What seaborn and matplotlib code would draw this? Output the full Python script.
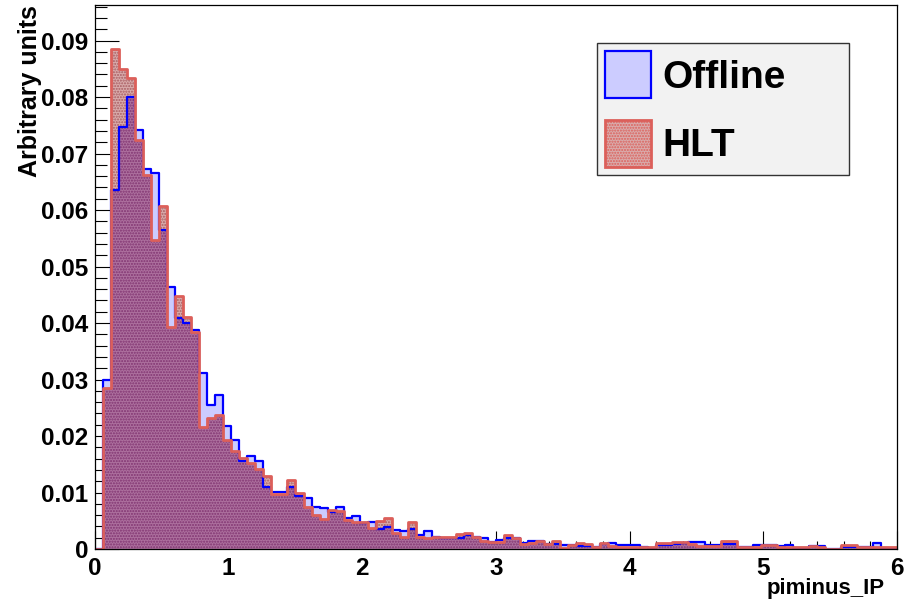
import numpy as np
import pandas as pd
import matplotlib
matplotlib.use("Agg")
import matplotlib.pyplot as plt
from matplotlib.patches import Patch
import seaborn as sns
from matplotlib.ticker import MultipleLocator

# ---------------- data ----------------
x_range = (0.0, 6.0)
n_bins = 100
offline = [0.0, 0.0300, 0.0635, 0.0747, 0.0800, 0.0742, 0.0672, 0.0665, 0.0565, 0.0464,
           0.0409, 0.0400, 0.0388, 0.0311, 0.0255, 0.0273, 0.0218, 0.0193, 0.0156, 0.0165,
           0.0156, 0.0110, 0.0101, 0.0101, 0.0110, 0.0093, 0.0090, 0.0074, 0.0073, 0.0065,
           0.0074, 0.0055, 0.0059, 0.0046, 0.0047, 0.0035, 0.0039, 0.0033, 0.0032, 0.0035,
           0.0025, 0.0031, 0.0022, 0.0020, 0.0019, 0.0019, 0.0024, 0.0021, 0.0019, 0.0013,
           0.0016, 0.0019, 0.0019, 0.0011, 0.0015, 0.0015, 0.0009, 0.0009, 0.0007, 0.0007,
           0.0006, 0.0005, 0.0003, 0.0009, 0.0011, 0.0007, 0.0007, 0.0007, 0.0003, 0.0001,
           0.0007, 0.0007, 0.0009, 0.0010, 0.0013, 0.0013, 0.0007, 0.0007, 0.0009, 0.0009,
           0.0003, 0.0003, 0.0007, 0.0007, 0.0007, 0.0005, 0.0007, 0.0001, 0.0001, 0.0005,
           0.0005, 0.0, 0.0, 0.0003, 0.0003, 0.0003, 0.0003, 0.0011, 0.0001, 0.0]
hlt = [0.0, 0.0285, 0.0885, 0.0850, 0.0834, 0.0724, 0.0662, 0.0547, 0.0607, 0.0393,
       0.0448, 0.0411, 0.0385, 0.0216, 0.0232, 0.0237, 0.0193, 0.0174, 0.0161, 0.0152,
       0.0142, 0.0129, 0.0097, 0.0097, 0.0122, 0.0099, 0.0074, 0.0060, 0.0053, 0.0069,
       0.0068, 0.0051, 0.0047, 0.0047, 0.0037, 0.0050, 0.0055, 0.0029, 0.0022, 0.0047,
       0.0022, 0.0019, 0.0022, 0.0022, 0.0022, 0.0026, 0.0028, 0.0021, 0.0014, 0.0013,
       0.0013, 0.0025, 0.0019, 0.0009, 0.0011, 0.0015, 0.0009, 0.0015, 0.0002, 0.0007,
       0.0011, 0.0009, 0.0003, 0.0011, 0.0005, 0.0004, 0.0003, 0.0003, 0.0003, 0.0003,
       0.0011, 0.0011, 0.0013, 0.0013, 0.0009, 0.0006, 0.0005, 0.0005, 0.0015, 0.0015,
       0.0003, 0.0003, 0.0003, 0.0007, 0.0007, 0.0003, 0.0003, 0.0003, 0.0003, 0.0005,
       0.0003, 0.0, 0.0, 0.0007, 0.0007, 0.0003, 0.0003, 0.0003, 0.0003, 0.0003]
series_names = ["Offline", "HLT"]
x_ticks = [0, 1, 2, 3, 4, 5, 6]
x_tick_labels = ["0", "1", "2", "3", "4", "5", "6"]
y_ticks = [0.0, 0.01, 0.02, 0.03, 0.04, 0.05, 0.06, 0.07, 0.08, 0.09]
y_tick_labels = ["0", "0.01", "0.02", "0.03", "0.04", "0.05", "0.06", "0.07", "0.08", "0.09"]
x_title = "piminus_IP"
y_title = "Arbitrary units"
y_max = 0.0963

# ---------------- style ----------------
sns.set_style("white")
plt.rcParams["font.family"] = ["Liberation Sans", "DejaVu Sans"]
plt.rcParams["font.weight"] = "bold"
for k in ["text.color", "axes.labelcolor", "xtick.color", "ytick.color", "axes.edgecolor"]:
    plt.rcParams[k] = "black"
plt.rcParams["hatch.linewidth"] = 1.0

off_face = (0.80, 0.80, 1.0)
off_edge = "#0000ff"
hlt_face = (0.85, 0.67, 0.67)
hlt_dots = (0.66, 0.36, 0.38)
both_face = (0.68, 0.44, 0.62)
both_dots = (0.50, 0.20, 0.44)
hlt_edge = "#dc5f5a"

edges = [float(e) for e in np.linspace(x_range[0], x_range[1], n_bins + 1)]
centers = [0.5 * (edges[i] + edges[i + 1]) for i in range(n_bins)]
df = pd.DataFrame({"x": centers, "offline": offline, "hlt": hlt})
# region where the HLT pattern lies over the Offline fill
df["both"] = np.minimum(df["offline"], df["hlt"])

fig = plt.figure(figsize=(9.12, 6.06), dpi=100)
ax = fig.add_axes([95 / 912, 1 - 549 / 606, 802 / 912, 544 / 606])

common = dict(data=df, x="x", bins=edges, element="step", ax=ax)
# fills (edgecolor only sets the dot colour of the pattern, linewidth 0)
sns.histplot(weights="offline", fill=True, facecolor=off_face, edgecolor="none",
             linewidth=0, **common)
sns.histplot(weights="hlt", fill=True, facecolor=hlt_face, edgecolor=hlt_dots,
             linewidth=0, hatch="......", **common)
sns.histplot(weights="both", fill=True, facecolor=both_face, edgecolor=both_dots,
             linewidth=0, hatch="......", **common)
# outlines
sns.histplot(weights="offline", fill=False, color=off_edge, linewidth=1.6, **common)
sns.histplot(weights="hlt", fill=False, color=hlt_edge, linewidth=2.0, **common)

ax.set_xlim(*x_range)
ax.set_ylim(0, y_max)
ax.set_xticks(x_ticks)
ax.set_xticklabels(x_tick_labels)
ax.set_yticks(y_ticks)
ax.set_yticklabels(y_tick_labels)
ax.xaxis.set_minor_locator(MultipleLocator(0.2))
ax.yaxis.set_minor_locator(MultipleLocator(0.002))

ax.tick_params(axis="both", which="both", direction="in", width=0.8, color="black",
               labelcolor="black", labelsize=17.5, bottom=True, left=True, top=False,
               right=False)
ax.tick_params(axis="y", which="major", length=17, pad=5)
ax.tick_params(axis="y", which="minor", length=8.5)
ax.tick_params(axis="x", which="major", length=13, pad=6)
ax.tick_params(axis="x", which="minor", length=6)

for s in ax.spines.values():
    s.set_visible(True)
    s.set_color("black")
    s.set_linewidth(0.9)

ax.set_xlabel(x_title, fontsize=16, fontweight="bold", loc="right")
ax.set_ylabel(y_title, fontsize=18, fontweight="bold", loc="top")
ax.xaxis.set_label_coords(0.985, -0.054)
ax.yaxis.set_label_coords(-0.066, 1.0)

handles = [
    Patch(facecolor=off_face, edgecolor=off_edge, linewidth=1.6),
    Patch(facecolor=hlt_face, edgecolor=hlt_edge, linewidth=2.0, hatch="......"),
]
leg = ax.legend(handles, series_names, loc="upper left",
                bbox_to_anchor=(0.626, 0.684, 0.314, 0.246),
                mode="expand", prop={"weight": "bold", "size": 28},
                handlelength=1.18, handleheight=1.48, handletextpad=0.28,
                labelspacing=0.555, borderpad=0.21, borderaxespad=0.0,
                fancybox=False, framealpha=1.0, facecolor="#f2f2f2", edgecolor="#333333")
leg.get_frame().set_linewidth(1.0)

fig.savefig("out.png", dpi=100)
